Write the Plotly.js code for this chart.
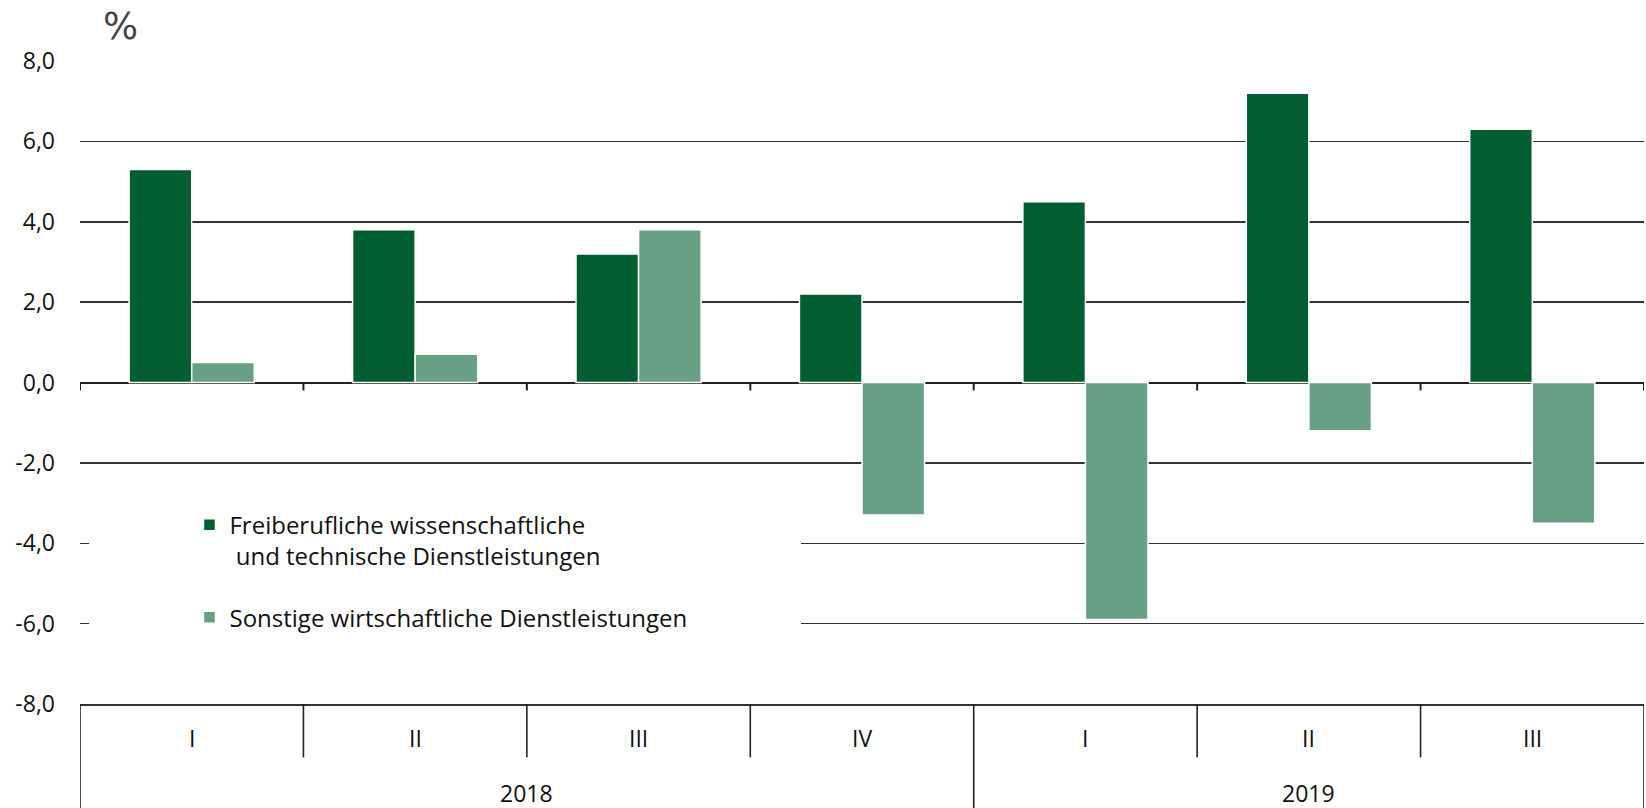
<!DOCTYPE html>
<html>
<head>
<meta charset="utf-8">
<script src="https://cdn.plot.ly/plotly-3.0.1.min.js"></script>
<style>html,body{margin:0;padding:0;background:#fff;}#chart{width:1646px;height:808px;}</style>
</head>
<body>
<div id="chart"></div>
<script>
// ---- data ----
const years = ["2018", "2018", "2018", "2018", "2019", "2019", "2019"];
const quarters = ["I", "II", "III", "IV", "I", "II", "III"];
const yearLabels = ["2018", "2019"];
const seriesNames = ["Freiberufliche wissenschaftliche<br>\u00a0und technische Dienstleistungen",
                     "Sonstige wirtschaftliche Dienstleistungen"];
const freiberuflich = [5.3, 3.8, 3.2, 2.2, 4.5, 7.2, 6.3];
const sonstige = [0.5, 0.7, 3.8, -3.3, -5.9, -1.2, -3.5];
const yTicks = [-8, -6, -4, -2, 0, 2, 4, 6, 8];
const yTickText = yTicks.map(v => v.toFixed(1).replace(".", ","));

// ---- derived ----
const cats = quarters.map((q, i) => years[i] + " " + q);
const FONT = "'Open Sans', 'Noto Sans', sans-serif";
const DARK = "#025e30";
const LIGHT = "#68a084";

const traces = [
  {type: "bar", name: seriesNames[0], x: cats, y: freiberuflich, legendgroup: "a",
   marker: {color: DARK, line: {color: "#ffffff", width: 1.5}}},
  {type: "bar", name: seriesNames[1], x: cats, y: sonstige, legendgroup: "b",
   marker: {color: LIGHT, line: {color: "#ffffff", width: 1.5}}}
];

const shapes = [];
const annotations = [];
const n = cats.length;
// tick marks under the zero line at category boundaries
for (let i = 0; i <= n; i++) {
  shapes.push({type: "line", xref: "x", yref: "y", x0: i - 0.5, x1: i - 0.5,
    ysizemode: "pixel", yanchor: 0, y0: 0, y1: -8, line: {color: "#222", width: 2}});
}
// category dividers below the plot
for (let i = 0; i <= n; i++) {
  const yearBoundary = (i === 0 || i === n || years[i] !== years[i - 1]);
  shapes.push({type: "line", xref: "x", yref: "paper", x0: i - 0.5, x1: i - 0.5,
    y0: 0, y1: yearBoundary ? -0.165 : -0.083, line: {color: "#222", width: 1.6}});
}
// white box behind legend (hides gridlines)
shapes.push({type: "rect", xref: "paper", yref: "y", x0: 0.0058, x1: 0.461, y0: -2.4, y1: -7.6,
  fillcolor: "#ffffff", line: {width: 0}, layer: "above"});

// quarter labels
quarters.forEach((q, i) => {
  annotations.push({xref: "x", yref: "paper", x: i, y: -0.053, text: q, showarrow: false,
    yanchor: "middle", font: {family: FONT, size: 23, color: "#111"}});
});
// year labels
yearLabels.forEach(yr => {
  const idx = years.map((y, i) => y === yr ? i : -1).filter(i => i >= 0);
  const mid = (idx[0] + idx[idx.length - 1]) / 2;
  annotations.push({xref: "x", yref: "paper", x: mid, y: -0.138, text: yr, showarrow: false,
    yanchor: "middle", font: {family: FONT, size: 23, color: "#111"}});
});
// unit label
annotations.push({xref: "paper", yref: "paper", x: 0.026, y: 1.053, text: "%", showarrow: false,
  xanchor: "center", yanchor: "middle", font: {family: "'DejaVu Sans', sans-serif", size: 37, color: "#444"}});

const layout = {
  width: 1646, height: 808,
  margin: {l: 80, r: 2, t: 61, b: 104, pad: 0},
  paper_bgcolor: "#ffffff", plot_bgcolor: "#ffffff",
  font: {family: FONT, size: 23, color: "#111"},
  barmode: "group", bargap: 0.44, bargroupgap: 0,
  showlegend: true,
  legend: {x: 0.07, y: 0.313, xanchor: "left", yanchor: "top", bgcolor: "rgba(0,0,0,0)",
    borderwidth: 0, font: {family: FONT, size: 24, color: "#111"}, tracegroupgap: 27,
    valign: "top", itemwidth: 30, traceorder: "grouped"},
  xaxis: {type: "category", categoryorder: "array", categoryarray: cats, range: [-0.5, n - 0.5],
    showgrid: false, showticklabels: false, ticks: "", zeroline: false,
    showline: true, linecolor: "#333", linewidth: 2, fixedrange: true},
  yaxis: {range: [-8, 8], tickmode: "array", tickvals: yTicks, ticktext: yTickText, showgrid: true,
    gridcolor: "#333", gridwidth: 1.5, zeroline: true, zerolinecolor: "#222", zerolinewidth: 2,
    showline: false, ticks: "", ticklabelstandoff: 24,
    tickfont: {family: FONT, size: 23, color: "#111"}, fixedrange: true},
  shapes: shapes,
  annotations: annotations
};

Plotly.newPlot("chart", traces, layout, {displayModeBar: false, staticPlot: true});
</script>
</body>
</html>
